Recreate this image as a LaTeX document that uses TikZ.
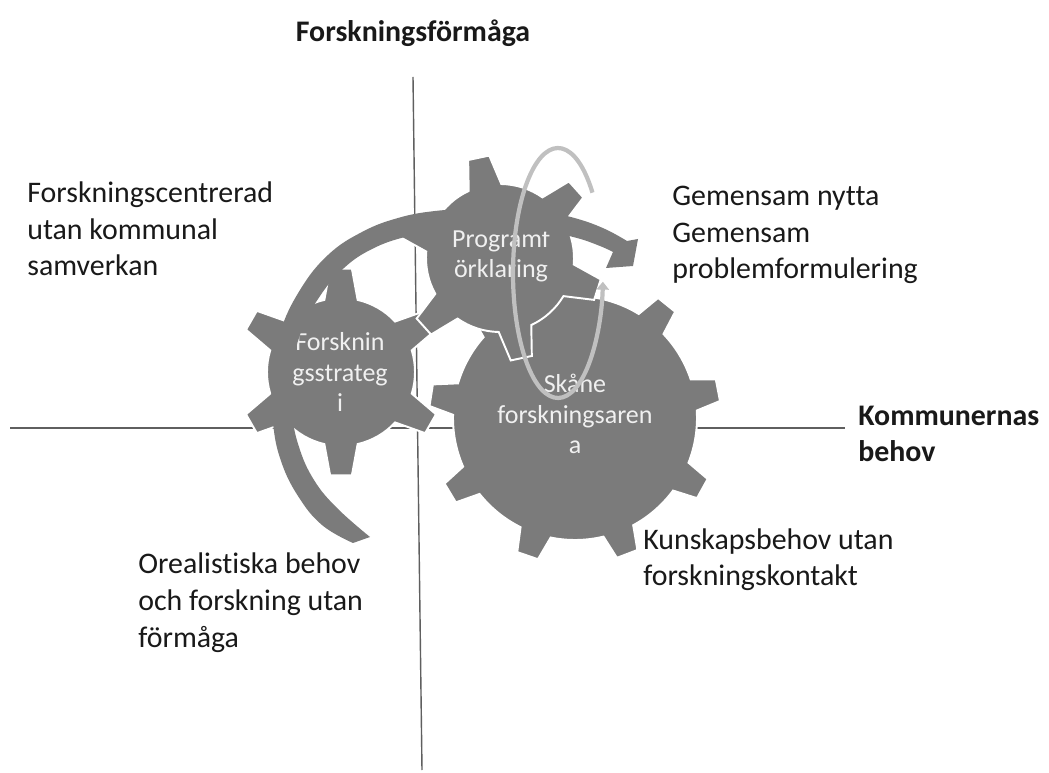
\documentclass[tikz,border=0pt]{standalone}
\usepackage{fontspec}
\setmainfont{Carlito}[Ligatures=NoCommon]
\usetikzlibrary{arrows.meta}
\definecolor{gearfill}{RGB}{123,123,123}
\definecolor{axisline}{RGB}{95,95,95}
\definecolor{ringgray}{RGB}{192,192,192}
\definecolor{txtcol}{RGB}{25,25,25}
\definecolor{geartxt}{RGB}{240,240,240}
\newcommand{\drawgear}[8]{%
  \begin{scope}[shift={(#1,#2)}, y=0.02cm]
    \filldraw[gearstyle] (#6-#7:#3)
      \foreach \k [evaluate=\k as \ang using #6+(\k-1)*360/#5] in {1,...,#5}{
        -- (\ang-#7:#3) -- (\ang-#8:#4) -- (\ang+#8:#4) -- (\ang+#7:#3)
        arc[start angle=\ang+#7, end angle=\ang+360/#5-#7, radius=#3]
      } -- cycle;
  \end{scope}}
\begin{document}
\begin{tikzpicture}[x=0.02cm, y=-0.02cm,
  gearstyle/.style={fill=gearfill, draw=white, line width=1.1pt, line join=miter},
  axis/.style={draw=axisline, line width=0.8pt},
  lbl/.style={font=\fontsize{17}{21}\selectfont, text=txtcol, align=left, anchor=base west, inner sep=0pt},
  blbl/.style={lbl, font=\fontsize{17}{21}\selectfont\bfseries},
  gtxt/.style={font=\fontsize{14.8}{17.2}\selectfont, text=geartxt, align=center, inner sep=0pt}]
\fill[white] (0,0) rectangle (1049,773);
\useasboundingbox (0,0) rectangle (1049,773);
% axes
\coordinate (vtop) at (413,77);
\coordinate (vbot) at (422,770);
\coordinate (hl) at (10,428);
\coordinate (hr) at (845,428);
\draw[axis] (vtop) -- (vbot);
\draw[axis] (hl) -- (hr);
% gears
\drawgear{341}{372}{74}{104}{6}{30}{13}{6}
\node[gtxt] (g1) at (340,372) {Forsknin\\gsstrateg\\i};
\drawgear{575}{418}{122}{146}{9}{11}{7.5}{4.3}
\node[gtxt] (g2) at (575,414) {Skåne\\forskningsaren\\a};
\drawgear{500}{258}{74}{103}{6}{42}{13}{6}
\node[gtxt] (g3) at (501,256) {Programf\\örklaring};
% dark circular arrow
\fill[gearfill] plot[smooth, tension=0.7] coordinates {(353,543) (322,525) (298,496) (281,461) (273,423) (272,380) (280,333) (300,290) (328,255) (362,232) (398,218) (435,211) (475,209) (515,210) (550,213) (578,219) (605,229) (627,241)}
  -- (638,239) -- (633,266) -- (606,268)
  -- plot[smooth, tension=0.7] coordinates {(613,252) (600,246) (577,238) (548,232) (515,229) (478,229) (440,231) (405,237) (372,249) (344,268) (320,296) (301,332) (292,372) (292,412) (299,447) (314,480) (337,508) (370,537)}
  -- cycle;
% light elliptical arrow
\begin{scope}[shift={(558,273)}, y=0.02cm]
  \draw[ringgray, line width=2.4pt, -{Triangle[width=7pt,length=4.5pt]}] (40:45 and 125) arc[start angle=40, end angle=356, x radius=45, y radius=125];
\end{scope}
% labels (base = baseline of the last line)
\node[blbl, anchor=base] (title) at (413,42) {Forskningsförmåga};
\node[lbl] (q1) at (27,276) {Forskningscentrerad\\utan kommunal\\samverkan};
\node[lbl] (q2) at (672,279) {Gemensam nytta\\Gemensam\\problemformulering};
\node[blbl] (q3) at (858,462) {Kommunernas\\behov};
\node[lbl] (q4) at (643,586) {Kunskapsbehov utan\\forskningskontakt};
\node[lbl] (q5) at (138,647) {Orealistiska behov\\och forskning utan\\förmåga};
\end{tikzpicture}
\end{document}
